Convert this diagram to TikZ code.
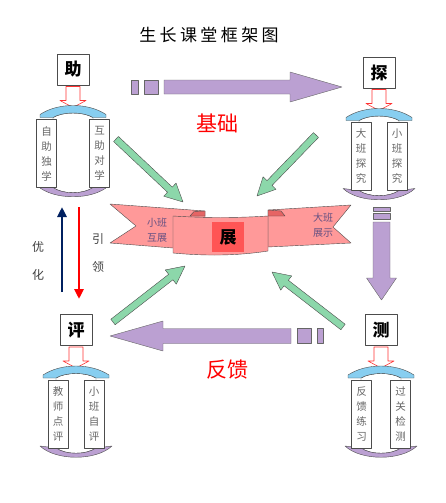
\documentclass[tikz,border=0pt]{standalone}
\usepackage{fontspec}
\setmainfont{Noto Sans CJK SC}
\newfontfamily\titlefont[LetterSpace=20]{Noto Sans CJK SC}
\usetikzlibrary{calc,arrows.meta}

\definecolor{purp}{RGB}{187,160,210}
\definecolor{capblue}{RGB}{135,206,240}
\definecolor{leaf}{RGB}{140,215,170}
\definecolor{ribbon}{RGB}{255,153,153}
\definecolor{fold}{RGB}{230,100,100}
\definecolor{seal}{RGB}{255,85,85}
\definecolor{navy}{RGB}{0,32,96}
\definecolor{wingtext}{RGB}{100,80,130}

\newcommand{\stage}[7]{
    \begin{scope}[shift={(#2,#3)}]
        \node[keybox] (#1) at (0,0) {#4};
        \draw[hollow] (-7,17) -- (7,17) -- (7,31) -- (13,31) -- (0,38) -- (-13,31) -- (-7,31) -- cycle;
        \draw[body] (-20,48) .. controls (-10,42) and (10,42) .. (20,48) -- (20,118) .. controls (10,125) and (-10,125) .. (-20,118) -- cycle;
        \draw[lid] (-33,48) -- (-33,45) .. controls (-15,33) and (15,33) .. (33,45) -- (33,48) -- (20,48) .. controls (10,42) and (-10,42) .. (-20,48) -- cycle;
        \draw[foot] (-36,116) .. controls (-20,131) and (20,131) .. (36,116) -- (20,118) .. controls (10,125) and (-10,125) .. (-20,118) -- cycle;
        \node[panel] (#1l) at (-#7-10,84) {#5};
        \node[panel] (#1r) at (#7+10,84) {#6};
    \end{scope}}

\newcommand{\fatarrow}[6]{
    \coordinate (#2h) at ($(#3)!#6!(#2)$);
    \draw[#1] ($(#2)!#4!90:(#3)$) -- ($(#2h)!#4!90:(#3)$) -- ($(#2h)!#5!90:(#3)$) -- (#3)
        -- ($(#2h)!#5!-90:(#3)$) -- ($(#2h)!#4!-90:(#3)$) -- ($(#2)!#4!-90:(#3)$) -- cycle;}

\begin{document}
\begin{tikzpicture}[x=1pt, y=-1pt, line join=round,
    keybox/.style={draw=black!70, fill=white, minimum width=32pt, minimum height=31pt, inner sep=0pt, font=\fontsize{17}{17}\selectfont\bfseries},
    hollow/.style={draw=red!80, fill=white, line width=0.6pt},
    body/.style={draw=black!70, fill=white},
    lid/.style={draw=black!70, fill=capblue},
    foot/.style={draw=black!70, fill=purp},
    panel/.style={draw=black!70, fill=white, minimum width=20pt, minimum height=68pt, inner sep=0pt, align=center, text=black!60, font=\fontsize{10.5}{15}\selectfont},
    leafarrow/.style={draw=black!70, fill=leaf},
    purparrow/.style={draw=black!60, fill=purp},
    ribbonpart/.style={draw=black!70, fill=ribbon},
    redword/.style={text=red, font=\fontsize{21}{21}\selectfont},
    sideword/.style={text=black!75, align=center, font=\fontsize{12}{28}\selectfont},
    wingword/.style={text=wingtext, align=center, font=\fontsize{10}{15}\selectfont}]

        \useasboundingbox (0,0) rectangle (446,503);

        \node (title) at (209,35) {\titlefont\fontsize{17}{17}\selectfont 生长课堂框架图};

        \stage{help}{73}{69.5}{助}{自\\助\\独\\学}{互\\助\\对\\学}{16.5}
        \stage{probe}{379}{72.5}{探}{大\\班\\探\\究}{小\\班\\探\\究}{8}
        \stage{review}{76}{330}{评}{教\\师\\点\\评}{小\\班\\自\\评}{8}
        \stage{test}{381}{330}{测}{反\\馈\\练\\习}{过\\关\\检\\测}{9.5}

        \coordinate (top0) at (164,87);
        \coordinate (top1) at (342,87);
        \coordinate (right0) at (381.5,222);
        \coordinate (right1) at (381.5,300);
        \coordinate (low0) at (291,336);
        \coordinate (low1) at (110,336);
        \coordinate (tl0) at (116,139);
        \coordinate (tl1) at (183,202);
        \coordinate (tr0) at (316,135);
        \coordinate (tr1) at (257,196);
        \coordinate (bl0) at (113,322);
        \coordinate (bl1) at (185,266);
        \coordinate (br0) at (343,327);
        \coordinate (br1) at (272,272);
        \coordinate (up0) at (62,292);
        \coordinate (up1) at (62,207);
        \coordinate (dn0) at (79,207);
        \coordinate (dn1) at (79,299);

        \draw[purparrow]
            (131,80) rectangle (138,94)
            (144,80) rectangle (158,94)
            (373,207) rectangle (390,211)
            (373,213) rectangle (390,219)
            (297,328) rectangle (311,343)
            (317,328) rectangle (323,343)
            ;
        \fatarrow{purparrow}{top0}{top1}{7pt}{15pt}{52pt}
        \fatarrow{purparrow}{right0}{right1}{8.5pt}{15pt}{22pt}
        \fatarrow{purparrow}{low0}{low1}{7.5pt}{15pt}{53pt}

        \fatarrow{leafarrow}{tl0}{tl1}{3.5pt}{9pt}{18pt}
        \fatarrow{leafarrow}{tr0}{tr1}{3.5pt}{9pt}{18pt}
        \fatarrow{leafarrow}{bl0}{bl1}{3.5pt}{9pt}{18pt}
        \fatarrow{leafarrow}{br0}{br1}{3.5pt}{9pt}{18pt}

        \draw[-{Triangle[length=10pt,width=9pt]}, line width=2.5pt, navy] (up0) -- (up1);
        \draw[-{Triangle[length=10pt,width=9pt]}, line width=2.5pt, red] (dn0) -- (dn1);

        \draw[ribbonpart] (110,204) -- (205,211) -- (205,246) -- (173,248) -- (110,243) -- (136,226) -- cycle;
        \draw[ribbonpart] (351,205) -- (268,210) -- (268,247) -- (351,243) -- (333,227) -- cycle;
        \draw[draw=black!70, fill=fold] (190,216) -- (194,211.5) -- (205,211) -- (205,216) -- cycle;
        \draw[draw=black!70, fill=fold] (268,210) -- (281,211) -- (285,216) -- (268,216) -- cycle;
        \draw[ribbonpart] (173,216) .. controls (205,218) and (236,218) .. (268,216) -- (268,251) .. controls (236,256) and (205,256) .. (173,253) -- cycle;
        \node[fill=seal, minimum width=32pt, minimum height=30pt, inner sep=0pt, font=\fontsize{17}{17}\selectfont\bfseries] (core) at (228,237) {展};

        \node[wingword] (leftwing) at (157,230.5) {小班\\互展};
        \node[wingword] (rightwing) at (323,225) {大班\\展示};
        \node[redword] (basis) at (217.5,123) {基础};
        \node[redword] (feedback) at (227.5,370) {反馈};
        \node[sideword] (optimize) at (38,260.5) {优\\化};
        \node[sideword] (lead) at (98,253.5) {引\\领};
    \end{tikzpicture}
\end{document}
